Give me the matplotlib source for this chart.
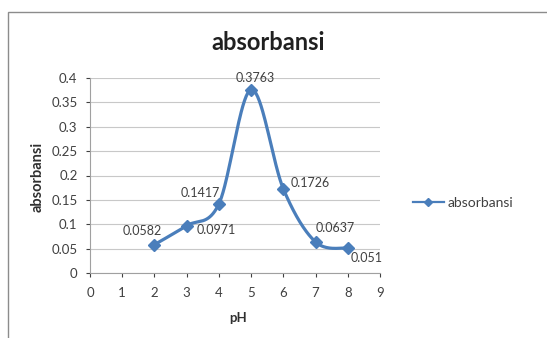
import matplotlib
matplotlib.use('Agg')
import matplotlib.pyplot as plt
from matplotlib.patches import Rectangle
import numpy as np

# data
ph = [2, 3, 4, 5, 6, 7, 8]
absorbansi = [0.0582, 0.0971, 0.1417, 0.3763, 0.1726, 0.0637, 0.051]
label_text = ['0.0582', '0.0971', '0.1417', '0.3763', '0.1726', '0.0637', '0.051']
# label offsets in pixels (dx, dy)
label_offsets = [(-12, 14), (30, -4), (-19, 11), (4, 12), (27, 6), (20, 14), (19, -10)]
x_ticks = list(range(0, 10))
y_ticks = [0, 0.05, 0.1, 0.15, 0.2, 0.25, 0.3, 0.35, 0.4]
y_ticklabels = ['0', '0.05', '0.1', '0.15', '0.2', '0.25', '0.3', '0.35', '0.4']

plt.rcParams['font.family'] = ['Lato', 'DejaVu Sans']
color = '#4A7EBB'


def smooth_curve(xs, ys, n=40):
    """Excel-like smoothed line (Catmull-Rom style Bezier segments)."""
    p = np.column_stack([xs, ys]).astype(float)
    pts = [p[0]]
    for i in range(len(p) - 1):
        p0 = p[i - 1] if i > 0 else p[i]
        p3 = p[i + 2] if i + 2 < len(p) else p[i + 1]
        c1 = p[i] + (p[i + 1] - p0) / 6
        c2 = p[i + 1] - (p3 - p[i]) / 6
        t = np.linspace(0, 1, n)[1:, None]
        seg = ((1 - t) ** 3 * p[i] + 3 * (1 - t) ** 2 * t * c1
               + 3 * (1 - t) * t ** 2 * c2 + t ** 3 * p[i + 1])
        pts.extend(seg)
    pts = np.array(pts)
    return pts[:, 0], pts[:, 1]


fig = plt.figure(figsize=(5.47, 3.38), dpi=100)
fig.patches.append(Rectangle((8 / 547, -0.1), 1.2, 1.1 - 12 / 338,
                             transform=fig.transFigure, fill=False,
                             edgecolor='#8c8c8c', linewidth=1.0))
ax = fig.add_axes([90 / 547, 1 - 273 / 338, 290 / 547, 195 / 338])

sx, sy = smooth_curve(ph, absorbansi)
ax.plot(sx, sy, color=color, linewidth=2.3, label='_nolegend_')
ax.plot(ph, absorbansi, linestyle='none', marker='D', markersize=6,
        color=color)
ax.plot([], [], color=color, linewidth=1.6, marker='D', markersize=4,
        label='absorbansi')

for x, y, txt, (dx, dy) in zip(ph, absorbansi, label_text, label_offsets):
    ax.annotate(txt, (x, y), xytext=(dx, dy), textcoords='offset pixels',
                ha='center', va='center', fontsize=9, color='#404040')

ax.set_xlim(0, 9)
ax.set_ylim(0, 0.4)
ax.set_xticks(x_ticks)
ax.set_yticks(y_ticks)
ax.set_yticklabels(y_ticklabels)
ax.tick_params(labelsize=9.5, colors='#404040', length=3, width=0.8,
               direction='out')
ax.tick_params(axis='x', pad=7)
ax.tick_params(axis='y', pad=6)
ax.grid(axis='y', color='#c8c8c8', linewidth=0.8)
ax.set_axisbelow(True)
for side in ['top', 'right']:
    ax.spines[side].set_visible(False)
for side in ['left', 'bottom']:
    ax.spines[side].set_color('#a0a0a0')

fig.text(268 / 547, 1 - 43 / 338, 'absorbansi', fontsize=17,
         fontweight='bold', ha='center', va='center', color='#202020')
fig.text(238 / 547, 1 - 318 / 338, 'pH', fontsize=9.5, fontweight='bold',
         ha='center', va='center', color='#303030')
fig.text(38 / 547, 1 - 177 / 338, 'absorbansi', fontsize=10.5,
         fontweight='bold', rotation=90, ha='center', va='center',
         color='#303030')

fig.legend(loc='center left', bbox_to_anchor=(400 / 547, 1 - 203 / 338),
           frameon=False, fontsize=10, handlelength=2.3, handletextpad=0.2,
           labelcolor='#404040')

fig.savefig('out.png', dpi=100)
